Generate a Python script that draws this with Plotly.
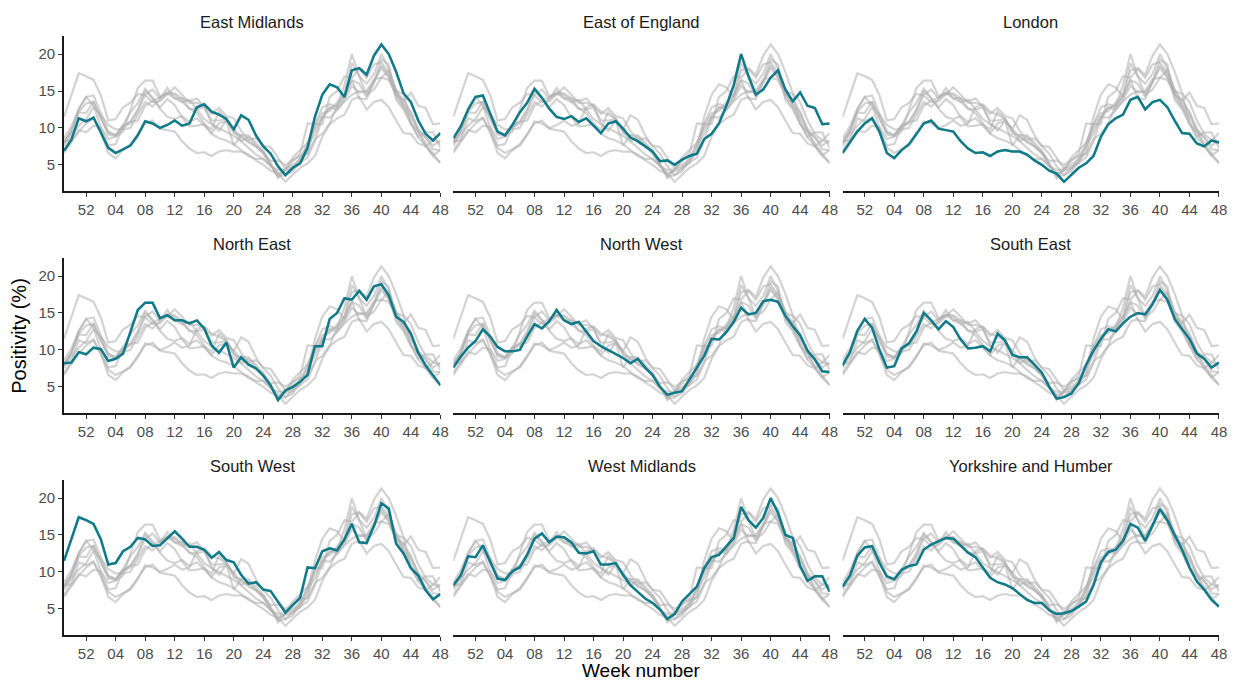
import plotly.graph_objects as go

# Week axis: weeks 49-52 of previous year followed by weeks 01-48 (one point per week)
weeks = [49, 50, 51, 52] + list(range(1, 49))
tick_weeks = [52, 4, 8, 12, 16, 20, 24, 28, 32, 36, 40, 44, 48]
tick_labels = ["52", "04", "08", "12", "16", "20", "24", "28", "32", "36", "40", "44", "48"]

regions = ["East Midlands", "East of England", "London",
           "North East", "North West", "South East",
           "South West", "West Midlands", "Yorkshire and Humber"]

east_midlands = [6.9, 8.4, 11.3, 10.9, 11.4, 9.3, 7.3, 6.6, 7.1, 7.6, 9.0, 10.9, 10.6, 10.0, 10.4, 11.0,
                 10.3, 10.6, 12.8, 13.2, 12.2, 11.8, 11.2, 9.8, 11.7, 11.1, 9.0, 7.5, 6.5, 4.8, 3.6, 4.6,
                 5.2, 7.3, 11.5, 14.5, 15.9, 15.5, 14.2, 17.8, 18.1, 17.2, 19.8, 21.3, 20.0, 17.6, 14.7,
                 13.5, 11.0, 9.2, 8.3, 9.3]
east_of_england = [8.6, 10.2, 12.5, 14.2, 14.4, 12.0, 9.5, 9.0, 10.4, 12.1, 13.4, 15.3, 14.1, 12.6, 11.5,
                   11.2, 11.6, 10.8, 11.3, 10.3, 9.3, 10.6, 10.9, 9.9, 8.7, 8.2, 7.5, 6.8, 5.5, 5.6, 5.0,
                   5.7, 6.2, 6.5, 8.5, 9.2, 10.6, 13.0, 15.8, 20.0, 17.0, 14.5, 15.2, 16.8, 17.8, 15.2,
                   13.6, 14.8, 13.0, 12.7, 10.5, 10.6]
london = [6.6, 8.1, 9.5, 10.6, 11.3, 9.5, 6.6, 5.9, 7.0, 7.8, 9.2, 10.6, 11.0, 9.9, 9.7, 9.5, 8.2, 7.2,
          6.6, 6.7, 6.2, 6.8, 7.0, 6.8, 6.8, 6.4, 5.6, 5.0, 4.2, 3.8, 2.7, 3.6, 4.6, 5.2, 6.2, 8.8, 10.5,
          11.3, 11.8, 13.8, 14.2, 12.5, 13.5, 13.8, 12.8, 11.0, 9.3, 9.2, 7.9, 7.5, 8.3, 8.0]
north_east = [8.2, 8.3, 9.7, 9.4, 10.3, 10.1, 8.5, 8.8, 9.5, 12.5, 15.4, 16.4, 16.4, 14.3, 14.7, 14.0,
              14.0, 13.6, 14.0, 12.9, 10.6, 9.6, 11.0, 7.6, 9.0, 8.0, 7.5, 6.5, 5.2, 3.2, 4.5, 5.0, 5.7,
              6.6, 10.5, 10.5, 14.2, 15.0, 17.0, 16.8, 18.0, 16.8, 18.6, 18.9, 17.4, 14.5, 13.8, 12.2,
              9.6, 7.9, 6.5, 5.2]
north_west = [7.6, 9.1, 10.3, 11.2, 12.8, 11.8, 10.4, 9.8, 9.8, 10.0, 11.8, 13.5, 12.9, 13.9, 15.4, 14.0,
              13.5, 13.8, 12.5, 11.2, 10.5, 10.0, 9.5, 8.9, 8.2, 8.8, 7.6, 6.6, 5.0, 3.9, 4.2, 4.4, 6.0,
              7.6, 9.2, 11.5, 11.4, 12.4, 13.8, 15.7, 14.8, 15.0, 16.6, 16.8, 16.5, 14.6, 13.2, 12.0,
              9.9, 8.7, 7.1, 7.0]
south_east = [7.9, 9.7, 12.6, 14.2, 13.0, 10.0, 7.6, 7.8, 10.2, 10.9, 12.5, 15.0, 14.0, 12.8, 13.9, 13.1,
              11.4, 10.2, 10.3, 10.5, 9.8, 12.2, 11.3, 9.3, 9.0, 9.0, 8.0, 6.9, 5.0, 3.4, 3.6, 4.1, 5.5,
              8.0, 9.9, 11.5, 12.8, 12.5, 13.6, 14.5, 15.0, 14.8, 16.2, 18.1, 16.8, 14.2, 12.8, 11.5,
              9.5, 8.8, 7.6, 8.3]
south_west = [11.5, 14.6, 17.4, 17.0, 16.5, 14.4, 11.0, 11.2, 12.8, 13.4, 14.6, 14.4, 13.5, 13.6, 14.6,
              15.5, 14.5, 13.4, 13.4, 13.0, 11.9, 12.7, 11.6, 11.3, 9.6, 8.4, 8.6, 7.6, 7.4, 6.0, 4.5,
              5.5, 6.5, 10.6, 10.5, 12.8, 13.2, 12.9, 14.4, 16.5, 14.0, 13.9, 16.2, 19.3, 18.6, 13.8,
              12.5, 10.5, 9.5, 7.5, 6.3, 7.0]
west_midlands = [8.2, 9.5, 12.1, 12.0, 13.6, 11.4, 9.1, 8.9, 10.1, 10.6, 12.3, 14.5, 15.2, 14.0, 14.8,
                 14.7, 14.0, 12.6, 12.5, 12.8, 11.0, 11.0, 11.2, 9.6, 8.2, 7.3, 6.4, 5.8, 4.9, 3.6, 4.3,
                 6.0, 7.0, 8.0, 10.5, 12.0, 12.3, 13.5, 14.6, 18.8, 17.0, 16.0, 17.3, 20.0, 18.0, 15.0,
                 14.6, 10.8, 8.8, 9.4, 9.4, 7.3]
yorkshire = [8.0, 9.5, 12.2, 13.3, 13.5, 11.2, 9.4, 9.0, 10.3, 10.8, 11.0, 13.0, 13.7, 14.1, 14.6, 14.5,
             13.5, 12.6, 12.0, 10.6, 9.2, 8.6, 8.3, 7.8, 7.0, 6.2, 5.8, 5.8, 4.8, 4.3, 4.4, 4.7, 5.3,
             6.0, 8.2, 11.3, 12.7, 13.0, 14.2, 16.5, 16.0, 14.2, 16.3, 18.5, 17.0, 15.0, 13.0, 10.6,
             8.7, 7.6, 6.2, 5.3]

series = [east_midlands, east_of_england, london, north_east, north_west,
          south_east, south_west, west_midlands, yorkshire]


def week_pos(w):
    # position on the axis: week 52 of the previous year = 0
    return w - 52 if w >= 49 else w


x_vals = [week_pos(w) for w in weeks]
tick_vals = [week_pos(w) for w in tick_weeks]

TEAL = "#0F7B8A"
GREY = "rgba(175,175,175,0.55)"
FONT = "Liberation Sans, Arial, sans-serif"

# panel geometry (paper fractions)
col_dom = [[0.0, 0.3259], [0.3371, 0.6629], [0.6741, 1.0]]
row_dom = [[0.7412, 1.0], [0.3706, 0.6294], [0.0, 0.2588]]

fig = go.Figure()
layout = {}
annotations = []

for i, name in enumerate(regions):
    r, c = divmod(i, 3)
    k = i + 1
    xa = "x" if k == 1 else f"x{k}"
    ya = "y" if k == 1 else f"y{k}"
    for j, s in enumerate(series):
        fig.add_trace(go.Scatter(x=x_vals, y=s, mode="lines", xaxis=xa, yaxis=ya,
                                 line=dict(color=GREY, width=2.2), hoverinfo="skip",
                                 showlegend=False))
    fig.add_trace(go.Scatter(x=x_vals, y=series[i], mode="lines", xaxis=xa, yaxis=ya,
                             line=dict(color=TEAL, width=2.5), name=name, showlegend=False))

    xkey = "xaxis" if k == 1 else f"xaxis{k}"
    ykey = "yaxis" if k == 1 else f"yaxis{k}"
    layout[xkey] = dict(domain=col_dom[c], anchor=ya, range=[-3, 48],
                        tickvals=tick_vals, ticktext=tick_labels,
                        showline=True, linecolor="#1a1a1a", linewidth=1.6,
                        ticks="outside", ticklen=4, tickwidth=1.4, tickcolor="#333333",
                        tickfont=dict(family=FONT, size=15, color="#4D4D4D"),
                        showgrid=False, zeroline=False, fixedrange=True)
    first_col = (c == 0)
    layout[ykey] = dict(domain=row_dom[r], anchor=xa, range=[1.45, 22.45],
                        tickvals=[5, 10, 15, 20],
                        showticklabels=first_col,
                        showline=first_col, linecolor="#1a1a1a", linewidth=1.6,
                        ticks="outside" if first_col else "", ticklen=4, tickwidth=1.4,
                        tickcolor="#333333",
                        tickfont=dict(family=FONT, size=15, color="#4D4D4D"),
                        showgrid=False, zeroline=False, fixedrange=True)
    annotations.append(dict(text=name, xref="paper", yref="paper",
                            x=(col_dom[c][0] + col_dom[c][1]) / 2, y=row_dom[r][1],
                            xanchor="center", yanchor="bottom", yshift=3, showarrow=False,
                            font=dict(family=FONT, size=16.5, color="#1A1A1A")))

annotations.append(dict(text="Week number", xref="paper", yref="paper", x=0.5, y=-0.0593,
                        xanchor="center", yanchor="middle", showarrow=False, borderpad=0,
                        font=dict(family=FONT, size=19, color="#000000")))
annotations.append(dict(text="Positivity (%)", xref="paper", yref="paper", x=-0.0396, y=0.5,
                        xanchor="center", yanchor="middle", textangle=-90, showarrow=False,
                        font=dict(family=FONT, size=20, color="#000000")))

fig.update_layout(**layout)
fig.update_layout(width=1238, height=682, margin=dict(l=64, r=11, t=36, b=47),
                  paper_bgcolor="white", plot_bgcolor="white",
                  annotations=annotations, showlegend=False,
                  font=dict(family=FONT))

fig.write_html("out.html", config={"displayModeBar": False},
               post_script="document.body.style.margin='0';document.body.style.overflow='hidden';")
